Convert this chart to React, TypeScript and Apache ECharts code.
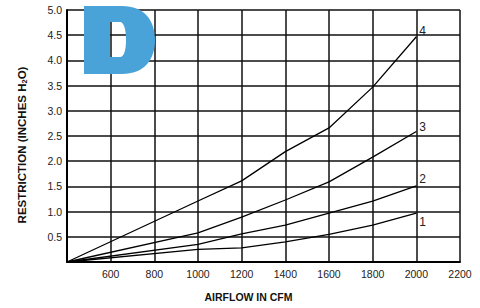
import React, { useEffect, useRef } from "react";
import * as echarts from "echarts";

const airflow = [400, 1000, 1200, 1400, 1600, 1800, 2000];
const curve1 = [0, 0.25, 0.28, 0.4, 0.55, 0.73, 0.97];
const curve2 = [0, 0.35, 0.56, 0.73, 0.97, 1.21, 1.51];
const curve3 = [0, 0.58, 0.89, 1.23, 1.59, 2.08, 2.59];
const curve4 = [0, 1.21, 1.61, 2.19, 2.66, 3.47, 4.47];
const curveNames = ["1", "2", "3", "4"];
const labelOffsets = [9, -7, -4, -6];

const FONT = "'Liberation Sans', Arial, sans-serif";

const D_PATH =
  "M0 0 H38 C60 0 71 14 71 34 C71 54 60 68 38 68 H0 Z M26 16 V51 H36 C40 51 42 44 42 34 C42 24 40 16 36 16 Z";

let registered = false;
function ensureShape() {
  if (registered) return;
  echarts.graphic.registerShape("letterD", echarts.graphic.extendPath(D_PATH, {}) as any);
  registered = true;
}

export default function App() {
  const ref = useRef<HTMLDivElement>(null);
  useEffect(() => {
    if (!ref.current) return;
    ensureShape();
    const chart = echarts.init(ref.current, null, { renderer: "svg" });
    const curves = [curve1, curve2, curve3, curve4];
    const series = curves.map((vals, si) => ({
      type: "line",
      name: curveNames[si],
      symbol: "none",
      color: "#000",
      itemStyle: { color: "#000" },
      lineStyle: { color: "#000", width: 1.3 },
      z: 3,
      endLabel: {
        show: true,
        formatter: curveNames[si],
        distance: 3,
        offset: [0, labelOffsets[si]],
        color: "#222",
        fontSize: 12,
        fontFamily: FONT,
      },
      data: vals.map((v, i) => [airflow[i], v]),
    }));
    chart.setOption({
      animation: false,
      backgroundColor: "#fff",
      color: ["#000"],
      grid: { left: 67, right: 20, top: 10, bottom: 46, containLabel: false },
      xAxis: {
        type: "value",
        min: 400,
        max: 2200,
        interval: 200,
        name: "AIRFLOW IN CFM",
        nameLocation: "middle",
        nameGap: 29,
        nameTextStyle: {
          fontFamily: FONT,
          fontWeight: "bold",
          fontSize: 10.5,
          color: "#111",
          padding: [0, 30, 0, 0],
        },
        axisLine: { show: true, lineStyle: { color: "#000", width: 2 } },
        axisTick: { show: false },
        axisLabel: {
          margin: 6,
          fontFamily: FONT,
          fontSize: 10.5,
          color: "#222",
          formatter: (v: number) => (v === 400 ? "" : String(v)),
        },
        splitLine: { show: true, lineStyle: { color: "#111", width: 1.5 } },
      },
      yAxis: {
        type: "value",
        min: 0,
        max: 5,
        interval: 0.5,
        name: "RESTRICTION (INCHES H{sub|2}O)",
        nameLocation: "middle",
        nameGap: 39,
        nameRotate: 90,
        nameTextStyle: {
          fontFamily: FONT,
          fontWeight: "bold",
          fontSize: 11.5,
          color: "#111",
          lineHeight: 13,
          padding: [0, 18, 0, 0],
          rich: {
            sub: {
              fontFamily: FONT,
              fontWeight: "bold",
              fontSize: 7.5,
              lineHeight: 8,
              verticalAlign: "bottom",
              color: "#111",
            },
          },
        },
        axisLine: { show: true, lineStyle: { color: "#000", width: 2 } },
        axisTick: { show: false },
        axisLabel: {
          margin: 5,
          fontFamily: FONT,
          fontSize: 10.5,
          color: "#222",
          formatter: (v: number) => (v === 0 ? "" : v.toFixed(1)),
        },
        splitLine: { show: true, lineStyle: { color: "#111", width: 1.5 } },
      },
      graphic: [
        {
          type: "letterD",
          x: 84,
          y: 6,
          z: 10,
          style: { fill: "#4aa3d8" },
        },
      ],
      series,
    });
    return () => chart.dispose();
  }, []);
  return (
    <div
      ref={ref}
      style={{ position: "fixed", left: 0, top: 0, width: 480, height: 308 }}
    />
  );
}
